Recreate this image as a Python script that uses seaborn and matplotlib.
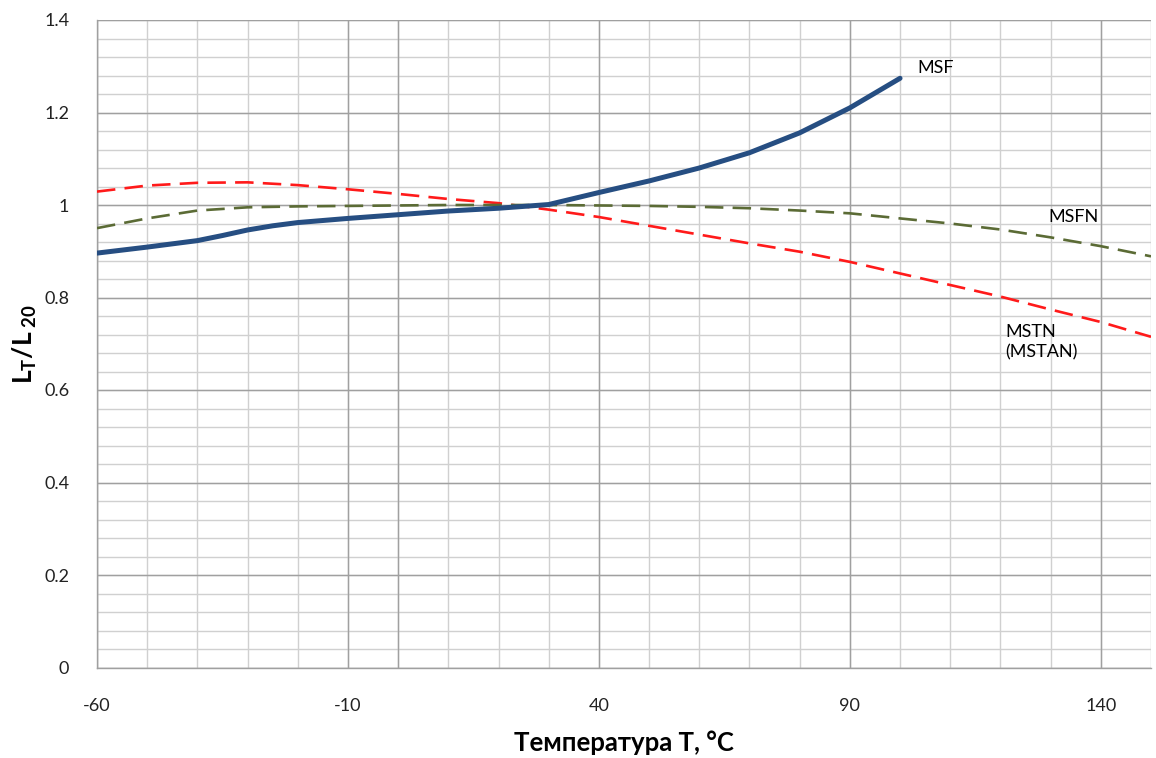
import numpy as np
import pandas as pd
import matplotlib
matplotlib.use("Agg")
import matplotlib.pyplot as plt
import seaborn as sns

# ---- data ----
temp_msf = [-60, -50, -40, -35, -30, -25, -20, -10, 0, 10, 20, 30, 40, 50, 60, 70, 80, 90, 100]
msf = [0.896, 0.909, 0.923, 0.934, 0.946, 0.955, 0.962, 0.971, 0.979, 0.987, 0.993, 1.001, 1.027, 1.052, 1.080, 1.113, 1.156, 1.210, 1.274]

temp_long = [-60, -50, -40, -30, -20, -10, 0, 10, 20, 30, 40, 50, 60, 70, 80, 90, 100, 110, 120, 130, 140, 150]
msfn = [0.950, 0.971, 0.988, 0.995, 0.997, 0.998, 0.999, 1.000, 1.000, 1.000, 0.999, 0.998, 0.996, 0.993, 0.988, 0.982, 0.971, 0.960, 0.947, 0.930, 0.911, 0.889]
mstn = [1.029, 1.042, 1.048, 1.049, 1.043, 1.034, 1.024, 1.013, 1.004, 0.990, 0.974, 0.955, 0.936, 0.917, 0.899, 0.877, 0.852, 0.827, 0.802, 0.774, 0.747, 0.715]

x_ticks = [-60, -10, 40, 90, 140]
y_ticks = [0, 0.2, 0.4, 0.6, 0.8, 1.0, 1.2, 1.4]
y_tick_labels = ["0", "0.2", "0.4", "0.6", "0.8", "1", "1.2", "1.4"]

sns.set_theme(style="white")
plt.rcParams['font.family'] = ['Lato', 'DejaVu Sans']
plt.rcParams['mathtext.fontset'] = 'custom'
plt.rcParams['mathtext.rm'] = 'Lato'
plt.rcParams['mathtext.bf'] = 'Lato:bold'
plt.rcParams['mathtext.it'] = 'Lato:italic'

fig = plt.figure(figsize=(11.56, 7.58), dpi=100)
ax = fig.add_axes([97/1156, 1-667.5/758, (1151-97)/1156, (667.5-20)/758])

df_msf = pd.DataFrame({"T": temp_msf, "v": msf})
df_msfn = pd.DataFrame({"T": temp_long, "v": msfn})
df_mstn = pd.DataFrame({"T": temp_long, "v": mstn})

sns.lineplot(data=df_mstn, x="T", y="v", ax=ax, color="#FF1A1A", linewidth=1.9,
             linestyle=(0, (7, 3.5)), zorder=3)
sns.lineplot(data=df_msfn, x="T", y="v", ax=ax, color="#5B6B35", linewidth=1.9,
             linestyle=(0, (7, 3.5)), zorder=3)
sns.lineplot(data=df_msf, x="T", y="v", ax=ax, color="#264E82", linewidth=3.6,
             solid_capstyle="round", solid_joinstyle="round", zorder=4)

ax.set_xlim(-60, 150)
ax.set_ylim(0, 1.4)

# grid
minor_x = np.arange(-60, 151, 10)
minor_y = np.arange(0, 1.401, 0.04)
for xv in minor_x:
    ax.axvline(xv, color="#D0D0D0", lw=1.0, zorder=1)
for yv in minor_y:
    ax.axhline(yv, color="#D0D0D0", lw=1.0, zorder=1)
for xv in x_ticks + [0]:
    ax.axvline(xv, color="#A0A0A0", lw=1.0, zorder=1.5)
for yv in y_ticks:
    ax.axhline(yv, color="#A0A0A0", lw=1.0, zorder=1.5)

ax.set_xticks(x_ticks)
ax.set_xticklabels([str(t) for t in x_ticks])
ax.set_yticks(y_ticks)
ax.set_yticklabels(y_tick_labels)
ax.tick_params(axis='both', length=0, labelsize=13, colors="#222222")
ax.tick_params(axis='x', pad=22)
ax.tick_params(axis='y', pad=20)

for s in ["top", "right"]:
    ax.spines[s].set_visible(False)
for s in ["left", "bottom"]:
    ax.spines[s].set_color("#A0A0A0")
    ax.spines[s].set_linewidth(1.0)

ax.set_xlabel("Температура T, °C", fontsize=18.5, fontweight="bold", labelpad=12, color="black")
ax.set_ylabel(r"$\mathbf{L_{T}/L_{\ 20}}$", fontsize=19, labelpad=4, color="black")

ax.text(103.5, 1.296, "MSF", fontsize=13, va="center", ha="left", color="black")
ax.text(129.5, 0.974, "MSFN", fontsize=13, va="center", ha="left", color="black")
ax.text(121, 0.703, "MSTN\n(MSTAN)", fontsize=13, va="center", ha="left", color="black",
        linespacing=1.3)

fig.savefig("out.png", dpi=100)
